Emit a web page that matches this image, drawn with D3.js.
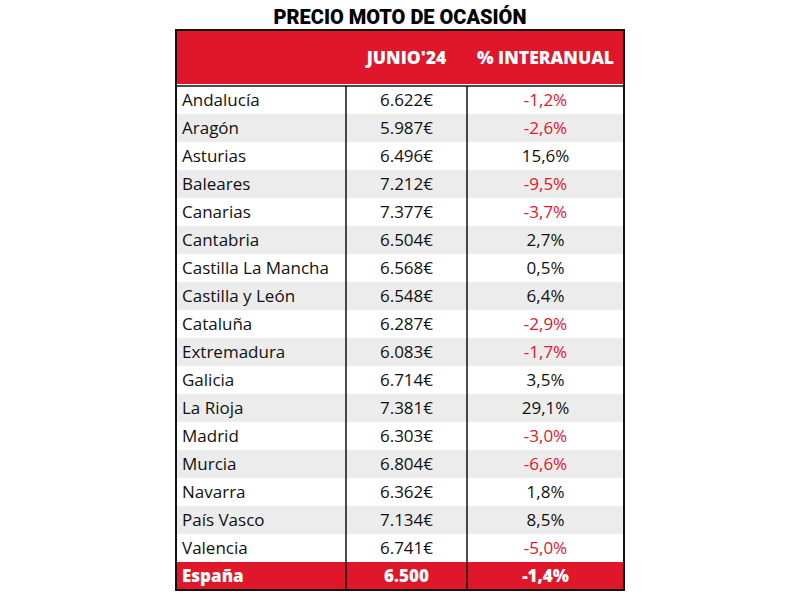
<!DOCTYPE html>
<html><head><meta charset="utf-8">
<script src="https://cdn.jsdelivr.net/npm/d3@7"></script>
<style>body{margin:0;background:#fff}</style>
</head><body>
<div id="chart"></div>
<script>
var regions = ["Andalucía","Aragón","Asturias","Baleares","Canarias","Cantabria","Castilla La Mancha","Castilla y León","Cataluña","Extremadura","Galicia","La Rioja","Madrid","Murcia","Navarra","País Vasco","Valencia"];
var prices = ["6.622€","5.987€","6.496€","7.212€","7.377€","6.504€","6.568€","6.548€","6.287€","6.083€","6.714€","7.381€","6.303€","6.804€","6.362€","7.134€","6.741€"];
var yoy = [-1.2,-2.6,15.6,-9.5,-3.7,2.7,0.5,6.4,-2.9,-1.7,3.5,29.1,-3.0,-6.6,1.8,8.5,-5.0];
var total = ["España","6.500","-1,4%"];
var headers = ["","JUNIO'24","% INTERANUAL"];

var red = "#e0162b";
var svg = d3.select("#chart").append("svg").attr("width",800).attr("height",600);
var font = "'Open Sans', sans-serif";

svg.append("text").attr("x",400).attr("y",24).attr("text-anchor","middle")
  .attr("font-family","Roboto, sans-serif").attr("font-weight",900).attr("font-size",20)
  .text("PRECIO MOTO DE OCASIÓN");

var left=176, right=624, c1=346, c2=467, tableTop=30, headH=54, rowH=28;
var x = d3.scaleOrdinal().domain([0,1,2]).range([182,(c1+c2)/2,(c2+right)/2]);
var y = d3.scaleBand().domain(d3.range(regions.length+1)).range([tableTop+headH+2, tableTop+headH+2+rowH*(regions.length+1)]);
var bottom = y(regions.length)+rowH;

svg.append("rect").attr("x",left).attr("y",tableTop).attr("width",right-left).attr("height",headH).attr("fill",red);
svg.selectAll(".hd").data(headers).join("text").attr("x",(d,i)=>x(i)).attr("y",tableTop+34)
  .attr("text-anchor","middle").attr("fill","#fff").attr("font-family",font).attr("font-weight",800)
  .attr("font-size",17.5).text(d=>d);

var rows = regions.map((r,i)=>[r,prices[i],(yoy[i].toFixed(1).replace(".",","))+"%"]);
svg.selectAll(".bg").data(rows).join("rect").attr("x",left).attr("y",(d,i)=>y(i))
  .attr("width",right-left).attr("height",rowH).attr("fill",(d,i)=>i%2?"#ececec":"#fff");
svg.append("rect").attr("x",left).attr("y",y(regions.length)).attr("width",right-left).attr("height",rowH).attr("fill",red);

var g = svg.selectAll(".row").data(rows.concat([total])).join("g");
g.selectAll("text").data((d,i)=>d.map((v,j)=>({v:v,j:j,i:i}))).join("text")
  .attr("x",d=>x(d.j)).attr("y",d=>y(d.i)+rowH/2+6)
  .attr("text-anchor",d=>d.j?"middle":"start")
  .attr("font-family",font).attr("font-size",17)
  .attr("font-weight",d=>d.i==regions.length?800:400)
  .attr("fill",d=>d.i==regions.length?"#fff":(d.j==2&&yoy[d.i]<0?red:"#111"))
  .text(d=>d.v);

// grid
svg.append("line").attr("x1",left).attr("x2",right).attr("y1",y(0)).attr("y2",y(0)).attr("stroke","#111").attr("stroke-width",1.5);
[c1,c2].forEach(cx=>svg.append("line").attr("x1",cx).attr("x2",cx).attr("y1",y(0)).attr("y2",bottom).attr("stroke","#111").attr("stroke-width",1.5));
svg.append("rect").attr("x",left).attr("y",tableTop).attr("width",right-left).attr("height",bottom-tableTop)
  .attr("fill","none").attr("stroke","#111").attr("stroke-width",2);
</script>
</body></html>
